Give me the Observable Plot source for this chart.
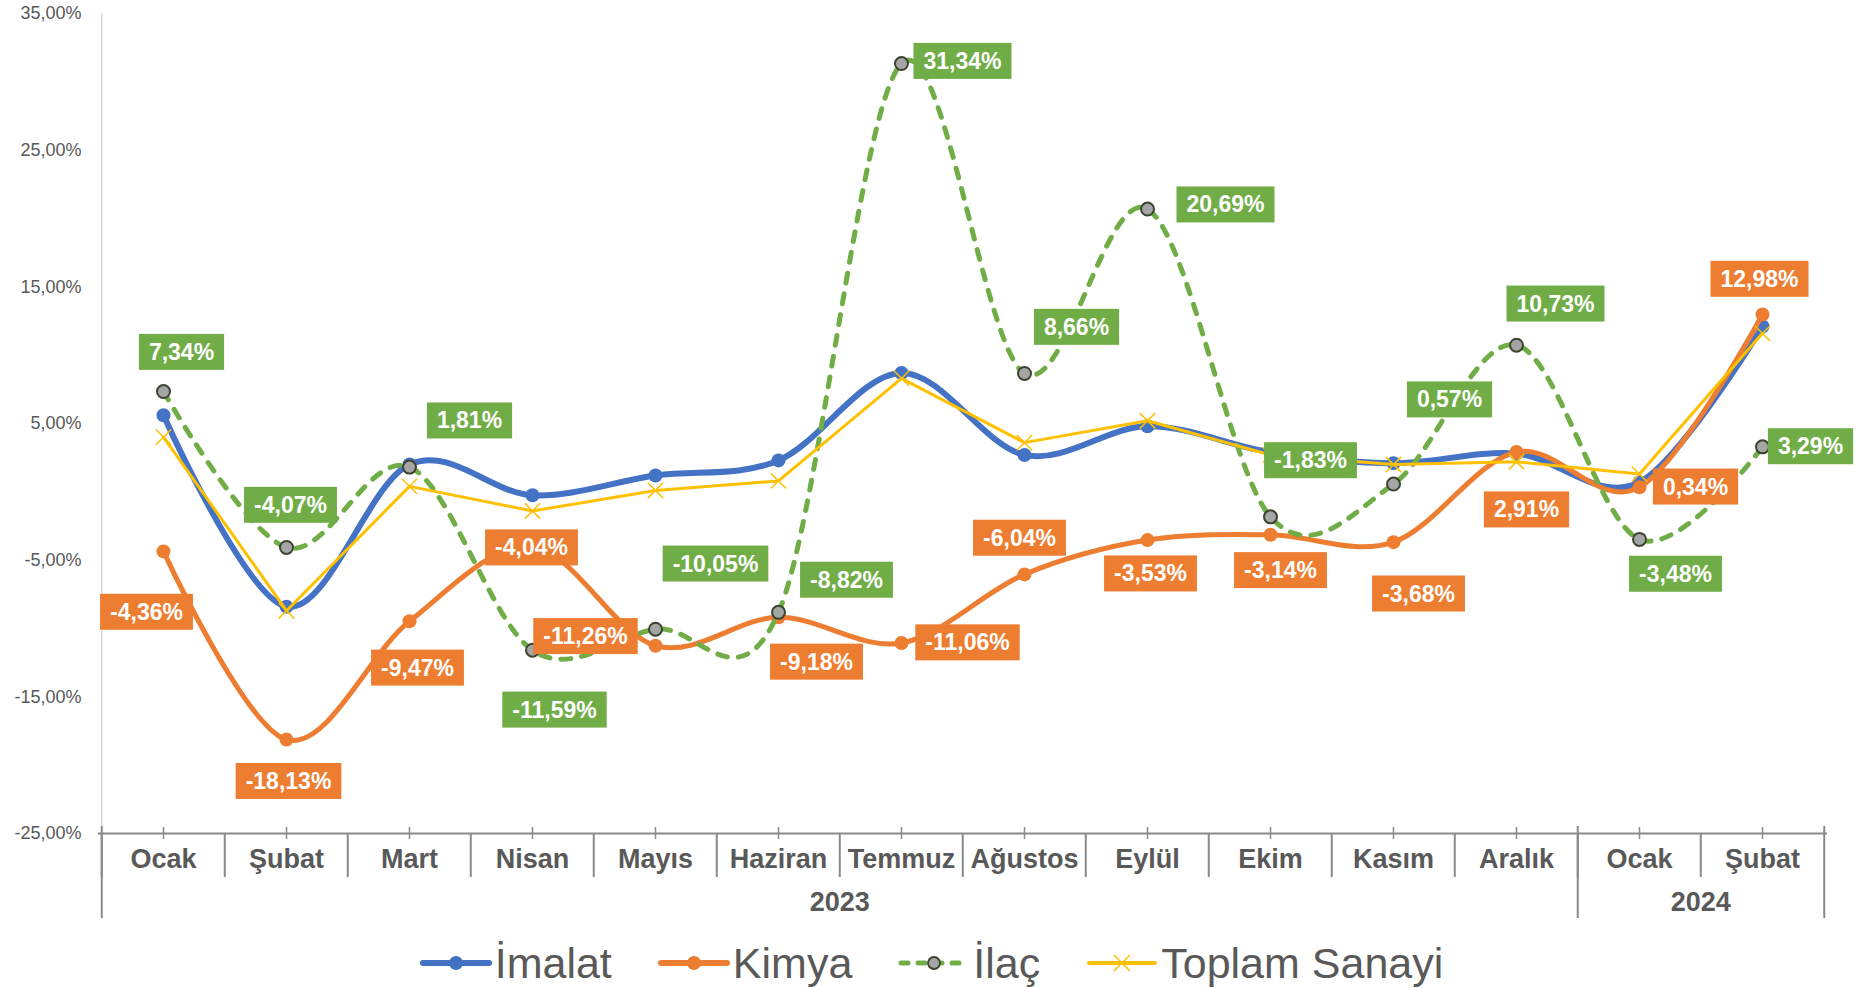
<!DOCTYPE html>
<html><head><meta charset="utf-8">
<script src="https://cdn.jsdelivr.net/npm/d3@7"></script>
<script src="https://cdn.jsdelivr.net/npm/@observablehq/plot@0.6"></script>
<style>
html,body{margin:0;padding:0;background:#fff;overflow:hidden}
#wrap{position:relative;width:1863px;height:988px;font-family:"Liberation Sans",Arial,sans-serif}
#legend{position:absolute;left:0;top:940px;width:1863px;height:46px;display:flex;justify-content:center;align-items:center;gap:46px;color:#595959;font-size:43px}
.item{display:flex;align-items:center;gap:3px;white-space:nowrap}
</style></head>
<body><div id="wrap"><div id="chart"></div><div id="legend"></div></div>
<script>
// ---- data ----
const months = ["Ocak","Şubat","Mart","Nisan","Mayıs","Haziran","Temmuz","Ağustos","Eylül","Ekim","Kasım","Aralık","Ocak","Şubat"];
const years = ["2023","2023","2023","2023","2023","2023","2023","2023","2023","2023","2023","2023","2024","2024"];
const imalat = [5.6, -8.4, 2.0, -0.25, 1.2, 2.3, 8.7, 2.7, 4.8, 2.9, 2.1, 2.8, 0.7, 12.1];
const kimya  = [-4.36, -18.13, -9.47, -4.04, -11.26, -9.18, -11.06, -6.04, -3.53, -3.14, -3.68, 2.91, 0.34, 12.98];
const ilac   = [7.34, -4.07, 1.81, -11.59, -10.05, -8.82, 31.34, 8.66, 20.69, -1.83, 0.57, 10.73, -3.48, 3.29];
const toplam = [4.0, -8.7, 0.4, -1.4, 0.1, 0.8, 8.3, 3.6, 5.2, 2.7, 2.0, 2.2, 1.3, 11.6];
const seriesNames = ["İmalat","Kimya","İlaç","Toplam Sanayi"];
const yTicks = [-25, -15, -5, 5, 15, 25, 35];

// ---- styling (label offsets in px, relative to each point) ----
const kimyaLabelOffsets = [[-17,61],[2,42],[8,47],[-1,1],[-70,-9],[38,45],[66,0],[-5,-36],[3,34],[10,36],[25,52],[10,58],[56,0],[-3,-35]];
const ilacLabelOffsets  = [[18,-39],[4,-42],[60,-46],[22,60],[60,-65],[68,-32],[61,-2],[52,-46],[78,-4],[40,-56],[56,-84],[39,-41],[36,35],[48,0]];
const C = {imalat:"#4472C4", kimya:"#ED7D31", ilac:"#70AD47", toplam:"#FFC000", axis:"#898989", text:"#595959", yaxis:"#D9D9D9"};
const LBL_OR = "#fffffe", LBL_GR = "#fefffe";

const W = 1863, H = 925, mL = 98, mR = 36, mT = 13, mB = 92;
const plotH = H - mT - mB;
const keys = months.map((m, i) => years[i] + "-" + String(i).padStart(2, "0"));
const step = (W - mL - mR) / keys.length;
const rows = keys.map((k, i) => ({key: k, imalat: imalat[i], kimya: kimya[i], ilac: ilac[i], toplam: toplam[i]}));
const fmt = v => v.toFixed(2).replace(".", ",") + "%";

const groupStarts = keys.filter((k, i) => i === 0 || years[i] !== years[i - 1]);
const groups = [];
years.forEach((y, i) => { if (i === 0 || y !== years[i - 1]) groups.push({year: y, start: i, count: 1}); else groups[groups.length - 1].count++; });
const evenGroups = groups.filter(g => g.count % 2 === 0).map(g => ({key: keys[g.start + g.count / 2], year: g.year}));
const oddGroups = groups.filter(g => g.count % 2 === 1).map(g => ({key: keys[g.start + (g.count - 1) / 2], year: g.year}));

const labelMarks = [];
kimyaLabelOffsets.forEach(([dx, dy], i) => labelMarks.push(Plot.text([rows[i]], {x: "key", y: "kimya", text: d => fmt(d.kimya), dx, dy, fill: LBL_OR, fontWeight: "bold", fontSize: 23})));
ilacLabelOffsets.forEach(([dx, dy], i) => labelMarks.push(Plot.text([rows[i]], {x: "key", y: "ilac", text: d => fmt(d.ilac), dx, dy, fill: LBL_GR, fontWeight: "bold", fontSize: 23})));

const chart = Plot.plot({
  width: W, height: H, marginLeft: mL, marginRight: mR, marginTop: mT, marginBottom: mB,
  style: {fontFamily: "'Liberation Sans', Arial, sans-serif", fontSize: "18px", color: C.text, background: "white"},
  x: {type: "point", domain: keys, padding: 0.5, axis: null},
  y: {domain: [yTicks[0], yTicks[yTicks.length - 1]], ticks: yTicks, tickFormat: fmt, tickSize: 0, tickPadding: 17, label: null},
  marks: [
    Plot.ruleX([keys[0]], {dx: -step / 2, stroke: C.yaxis, strokeWidth: 1.5}),
    Plot.ruleX(keys, {dx: -step / 2, insetTop: plotH, insetBottom: -44, stroke: C.axis, strokeWidth: 2}),
    Plot.ruleX([keys[keys.length - 1]], {dx: step / 2, insetTop: plotH - 7, insetBottom: -85, stroke: C.axis, strokeWidth: 2}),
    Plot.ruleX(groupStarts, {dx: -step / 2, insetTop: plotH - 7, insetBottom: -85, stroke: C.axis, strokeWidth: 2}),
    Plot.ruleX(keys, {insetTop: plotH - 6, insetBottom: -6, stroke: C.axis, strokeWidth: 1.5}),
    Plot.ruleY([yTicks[0]], {stroke: C.axis, strokeWidth: 2}),
    Plot.text(keys, {x: d => d, text: (d, i) => months[i], frameAnchor: "bottom", dy: 34, fontSize: 27, fontWeight: "bold", fill: C.text}),
    Plot.text(evenGroups, {x: "key", text: "year", frameAnchor: "bottom", dy: 77, dx: -step / 2, fontSize: 27, fontWeight: "bold", fill: C.text}),
    Plot.text(oddGroups, {x: "key", text: "year", frameAnchor: "bottom", dy: 77, fontSize: 27, fontWeight: "bold", fill: C.text}),
    Plot.line(rows, {x: "key", y: "imalat", curve: "cardinal", stroke: C.imalat, strokeWidth: 6}),
    Plot.dot(rows, {x: "key", y: "imalat", r: 7, fill: C.imalat}),
    Plot.line(rows, {x: "key", y: "kimya", curve: "cardinal", stroke: C.kimya, strokeWidth: 5}),
    Plot.dot(rows, {x: "key", y: "kimya", r: 7, fill: C.kimya}),
    Plot.line(rows, {x: "key", y: "ilac", curve: "cardinal", stroke: C.ilac, strokeWidth: 5, strokeDasharray: "10,11", strokeLinecap: "round"}),
    Plot.dot(rows, {x: "key", y: "ilac", r: 6.5, fill: "#A5A5A5", stroke: "#3A4530", strokeWidth: 2}),
    Plot.line(rows, {x: "key", y: "toplam", stroke: C.toplam, strokeWidth: 3}),
    Plot.dot(rows, {x: "key", y: "toplam", symbol: "times", r: 7, stroke: C.toplam, strokeWidth: 1.5}),
    ...labelMarks
  ]
});
document.getElementById("chart").append(chart);

// label boxes behind each data label
const boxColor = {[LBL_OR]: C.kimya, [LBL_GR]: C.ilac};
const sr = chart.getBoundingClientRect();
chart.querySelectorAll("text").forEach(t => {
  let el = t, f = null;
  while (el && el !== chart) { const a = el.getAttribute && el.getAttribute("fill"); if (a) { f = a.toLowerCase(); break; } el = el.parentNode; }
  if (!(f in boxColor)) return;
  const r = t.getBoundingClientRect();
  const w = r.width + 20, h = 36;
  const cx = r.left - sr.left + r.width / 2, cy = r.top - sr.top + r.height / 2;
  const rect = document.createElementNS("http://www.w3.org/2000/svg", "rect");
  rect.setAttribute("x", cx - w / 2); rect.setAttribute("y", cy - h / 2);
  rect.setAttribute("width", w); rect.setAttribute("height", h);
  rect.setAttribute("fill", boxColor[f]);
  const g = t.parentNode;
  g.parentNode.insertBefore(rect, g);
  t.setAttribute("fill", "#ffffff");
});

// legend
const swatch = {
  "İmalat": `<line x1="3" y1="12" x2="69" y2="12" stroke="${C.imalat}" stroke-width="6" stroke-linecap="round"/><circle cx="36" cy="12" r="7" fill="${C.imalat}"/>`,
  "Kimya": `<line x1="3" y1="12" x2="69" y2="12" stroke="${C.kimya}" stroke-width="6" stroke-linecap="round"/><circle cx="36" cy="12" r="7" fill="${C.kimya}"/>`,
  "İlaç": `<line x1="3" y1="12" x2="69" y2="12" stroke="${C.ilac}" stroke-width="5" stroke-dasharray="7,10" stroke-linecap="round"/><circle cx="36" cy="12" r="6" fill="#A5A5A5" stroke="#3A4530" stroke-width="1.8"/>`,
  "Toplam Sanayi": `<line x1="3" y1="12" x2="69" y2="12" stroke="${C.toplam}" stroke-width="4" stroke-linecap="round"/><path d="M28,4L44,20M44,4L28,20" stroke="${C.toplam}" stroke-width="1.5"/>`
};
const leg = document.getElementById("legend");
seriesNames.forEach(n => {
  const d = document.createElement("div"); d.className = "item";
  d.innerHTML = `<svg width="72" height="24">${swatch[n]}</svg><span>${n}</span>`;
  leg.append(d);
});
</script></body></html>
